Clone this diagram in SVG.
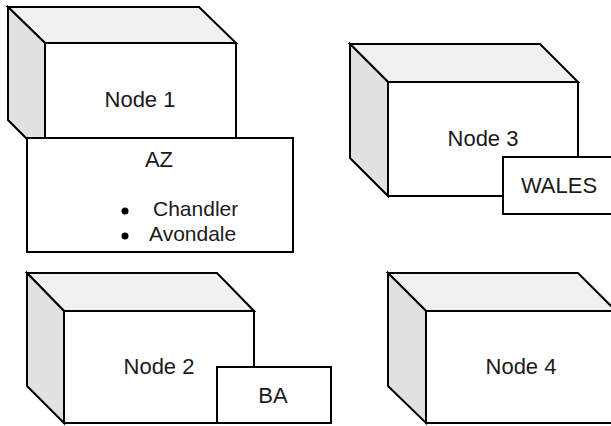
<svg xmlns="http://www.w3.org/2000/svg" width="611" height="426" viewBox="0 0 611 426">
  <defs>
    <style>
      .edge { stroke: #000; stroke-width: 2; stroke-linejoin: miter; }
      .front { fill: #fff; }
      .top { fill: #f1f1f1; }
      .side { fill: #e1e1e1; }
      .box { fill: #fff; stroke: #000; stroke-width: 2; }
      .lbl { font-family: "Liberation Sans", Arial, sans-serif; font-size: 22px; fill: #1a1a1a; text-anchor: middle; }
      .item { font-family: "Liberation Sans", Arial, sans-serif; font-size: 21px; fill: #1a1a1a; }
    </style>
  </defs>
  <rect width="611" height="426" fill="#fff"/>

  <!-- Node 1: 3D box with the AZ panel in front -->
  <g id="node1">
    <polygon class="top edge" points="8,7 199,7 236,43 45,43"/>
    <polygon class="side edge" points="8,7 45,43 45,157 8,120"/>
    <rect class="front edge" x="45" y="43" width="191" height="114"/>
    <text class="lbl" x="140" y="107">Node 1</text>
  </g>
  <g id="az">
    <rect class="box" x="27" y="138" width="266" height="114"/>
    <text class="lbl" x="159" y="167">AZ</text>
    <circle cx="125" cy="211" r="3.5" fill="#000"/>
    <circle cx="125" cy="236" r="3.5" fill="#000"/>
    <text class="item" x="153" y="216">Chandler</text>
    <text class="item" x="149" y="241">Avondale</text>
  </g>

  <!-- Node 3 with WALES panel -->
  <g id="node3">
    <polygon class="top edge" points="350,44 540,44 578,82 388,82"/>
    <polygon class="side edge" points="350,44 388,82 388,196 350,158"/>
    <rect class="front edge" x="388" y="82" width="190" height="114"/>
    <text class="lbl" x="483" y="146">Node 3</text>
  </g>
  <g id="wales">
    <rect class="box" x="503" y="157" width="112" height="57"/>
    <text class="lbl" x="559" y="193">WALES</text>
  </g>

  <!-- Node 2 with BA panel -->
  <g id="node2">
    <polygon class="top edge" points="27,273 217,273 254,311 64,311"/>
    <polygon class="side edge" points="27,273 64,311 64,423 27,386"/>
    <rect class="front edge" x="64" y="311" width="190" height="112"/>
    <text class="lbl" x="159" y="374">Node 2</text>
  </g>
  <g id="ba">
    <rect class="box" x="217" y="367" width="114" height="56"/>
    <text class="lbl" x="273" y="403">BA</text>
  </g>

  <!-- Node 4 -->
  <g id="node4">
    <polygon class="top edge" points="388,273 578,273 616,311 426,311"/>
    <polygon class="side edge" points="388,273 426,311 426,423 388,386"/>
    <rect class="front edge" x="426" y="311" width="190" height="112"/>
    <text class="lbl" x="521" y="374">Node 4</text>
  </g>
</svg>
